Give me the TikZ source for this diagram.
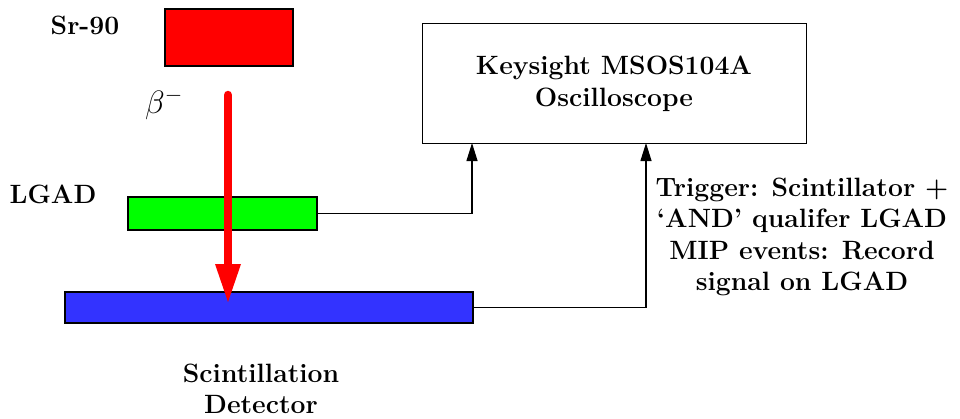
\documentclass[tikz,border=0pt]{standalone}
\usetikzlibrary{arrows.meta}
\definecolor{srred}{RGB}{255,0,0}
\definecolor{lgadgreen}{RGB}{0,255,0}
\definecolor{scintblue}{RGB}{51,51,255}
\begin{document}
\begin{tikzpicture}[x=1pt,y=-1pt,
  lbl/.style={font=\fontsize{26.5}{31.5}\selectfont\bfseries, align=center, inner sep=0pt},
  slab/.style={draw=black, line width=1.8pt, inner sep=0pt, anchor=north west},
  wire/.style={draw=black, line width=1.2pt},
  sig/.style={wire, -{Triangle[length=18pt,width=11pt]}}
]
\useasboundingbox (0,0) rectangle (960,418);

% source, detectors and oscilloscope
\node[slab, fill=srred, minimum width=128pt, minimum height=57pt] (src) at (164,8) {};
\node[slab, fill=lgadgreen, minimum width=189pt, minimum height=33pt] (lgad) at (127,196) {};
\node[slab, fill=scintblue, minimum width=408pt, minimum height=31pt] (scint) at (64,291) {};
\node[slab, fill=white, line width=1.4pt, minimum width=384pt, minimum height=120pt] (osc) at (422,23) {};

% labels
\node[lbl] (srlbl) at (85,25) {Sr-90};
\node[lbl] (lgadlbl) at (53,194) {LGAD};
\node[inner sep=0pt] (beta) at (164,104) {\fontsize{24}{28}\selectfont\scalebox{1.3}{$\beta^{-}$}};
\node[lbl] (osclbl) at (614,84) {Keysight MSOS104A\\Oscilloscope};
\node[lbl] (scintlbl) at (261,389) {Scintillation\\Detector};
\node[lbl] (trig) at (802,237) {Trigger: Scintillator +\\`AND' qualifer LGAD\\MIP events: Record\\signal on LGAD};

% beta particle path with its arrowhead
\coordinate (btop) at (228,95);
\coordinate (bend) at (228,302);
\draw[srred, line width=8.5pt, line cap=round] (btop) -- ([yshift=36pt]bend);
\fill[srred] (bend) -- ++(-13,-38) -- ++(26,0) -- cycle;

% signal lines into the oscilloscope
\coordinate (ch1) at (472,143);
\coordinate (ch2) at (646,143);
\draw[sig] (lgad.east) -| (ch1);
\draw[sig] (scint.east) -| (ch2);
\end{tikzpicture}
\end{document}
